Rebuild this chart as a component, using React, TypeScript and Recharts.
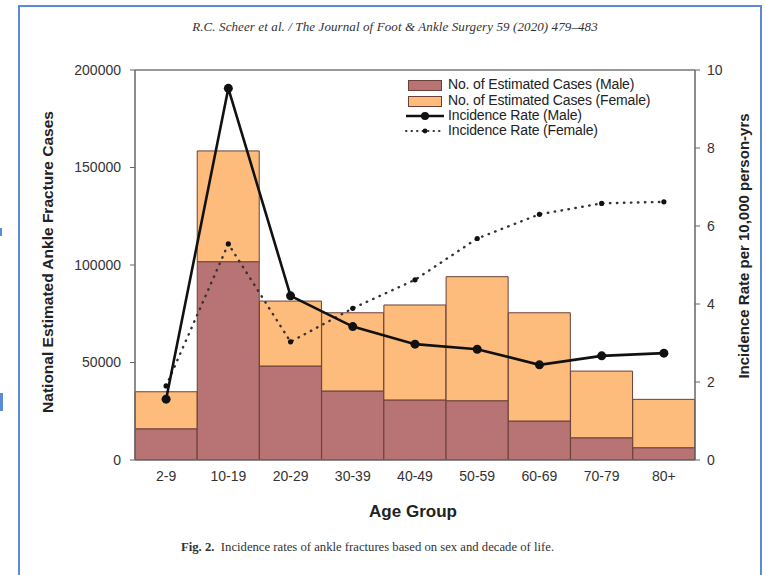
import React from "react";
import {
  ComposedChart,
  Bar,
  Line,
  XAxis,
  YAxis,
  ReferenceLine,
} from "recharts";

const ageGroups = ["2-9", "10-19", "20-29", "30-39", "40-49", "50-59", "60-69", "70-79", "80+"];
const maleCases = [16000, 101700, 48200, 35400, 30800, 30400, 20000, 11400, 6300];
const femaleCases = [19000, 56800, 33300, 40100, 48700, 63600, 55500, 34200, 24800];
const maleRate = [1.56, 9.53, 4.21, 3.42, 2.97, 2.84, 2.44, 2.67, 2.74];
const femaleRate = [1.9, 5.54, 3.03, 3.89, 4.62, 5.68, 6.3, 6.58, 6.62];
const leftTicks = [0, 50000, 100000, 150000, 200000];
const rightTicks = [0, 2, 4, 6, 8, 10];

const data = ageGroups.map((g, i) => ({
  group: g,
  male: maleCases[i],
  female: femaleCases[i],
  maleRate: maleRate[i],
  femaleRate: femaleRate[i],
}));

const MALE = "#b87374";
const FEMALE = "#fdbc7b";
const EDGE = "#6b4037";
const SANS = "'Liberation Sans', Arial, sans-serif";
const SERIF = "'Liberation Serif', 'Times New Roman', serif";

const MaleDot = (props: any) => {
  const { cx, cy } = props;
  if (cx == null || cy == null) return null;
  return <circle cx={cx} cy={cy} r={4.5} fill="#111" stroke="none" />;
};
const FemaleDot = (props: any) => {
  const { cx, cy } = props;
  if (cx == null || cy == null) return null;
  return <circle cx={cx} cy={cy} r={2.6} fill="#111" stroke="none" />;
};

export default function App() {
  const legendText: React.CSSProperties = {
    position: "absolute",
    left: 448,
    fontFamily: SANS,
    fontSize: 14,
    color: "#222",
    lineHeight: "15px",
    whiteSpace: "nowrap",
    letterSpacing: -0.15,
  };
  return (
    <div style={{ position: "absolute", left: 0, top: 0, width: 765, height: 575, background: "#fff", overflow: "hidden" }}>
      {/* blue frame */}
      <div style={{ position: "absolute", left: 18, top: 5, width: 744, height: 600, border: "2px solid #5b8ad6", boxSizing: "border-box" }} />
      <div style={{ position: "absolute", left: 0, top: 228, width: 2, height: 8, background: "#5b8ad6" }} />
      <div style={{ position: "absolute", left: 0, top: 393, width: 3, height: 18, background: "#5b8ad6" }} />

      <div style={{ position: "absolute", left: 0, top: 0 }}>
        <ComposedChart
          width={765}
          height={575}
          data={data}
          margin={{ top: 70, right: 40, bottom: 85, left: 75 }}
          barCategoryGap={0}
          barGap={0}
        >
          <XAxis
            dataKey="group"
            type="category"
            axisLine={{ stroke: "#666", strokeWidth: 1.5 }}
            tickLine={false}
            tickSize={0}
            tickMargin={11}
            height={30}
            tick={{ fontFamily: SANS, fontSize: 14, fill: "#333" }}
            interval={0}
          />
          <YAxis
            yAxisId="left"
            orientation="left"
            domain={[0, 200000]}
            ticks={leftTicks}
            width={60}
            axisLine={{ stroke: "#666", strokeWidth: 1.5 }}
            tickLine={{ stroke: "#666" }}
            tickSize={5}
            tickMargin={9}
            tick={{ fontFamily: SANS, fontSize: 14, fill: "#333" }}
            allowDataOverflow
          />
          <YAxis
            yAxisId="right"
            orientation="right"
            domain={[0, 10]}
            ticks={rightTicks}
            width={30}
            axisLine={{ stroke: "#666", strokeWidth: 1.5 }}
            tickLine={{ stroke: "#666" }}
            tickSize={5}
            tickMargin={7}
            tick={{ fontFamily: SANS, fontSize: 14, fill: "#333" }}
          />
          <ReferenceLine yAxisId="left" y={200000} stroke="#777" strokeWidth={1.5} />
          <Bar yAxisId="left" dataKey="male" stackId="cases" fill={MALE} stroke={EDGE} strokeWidth={1} isAnimationActive={false} />
          <Bar yAxisId="left" dataKey="female" stackId="cases" fill={FEMALE} stroke={EDGE} strokeWidth={1} isAnimationActive={false} />
          <Line
            yAxisId="right"
            dataKey="femaleRate"
            type="linear"
            stroke="#333"
            strokeWidth={2.4}
            strokeDasharray="0.5 6.5"
            strokeLinecap="round"
            dot={<FemaleDot />}
            activeDot={false}
            isAnimationActive={false}
          />
          <Line
            yAxisId="right"
            dataKey="maleRate"
            type="linear"
            stroke="#111"
            strokeWidth={2.6}
            dot={<MaleDot />}
            activeDot={false}
            isAnimationActive={false}
          />
        </ComposedChart>
      </div>

      {/* legend */}
      <div style={{ position: "absolute", left: 408, top: 80, width: 34, height: 11, background: MALE, border: `1px solid ${EDGE}`, boxSizing: "border-box" }} />
      <div style={{ ...legendText, top: 77 }}>No. of Estimated Cases (Male)</div>
      <div style={{ position: "absolute", left: 408, top: 96, width: 34, height: 11, background: FEMALE, border: `1px solid ${EDGE}`, boxSizing: "border-box" }} />
      <div style={{ ...legendText, top: 93 }}>No. of Estimated Cases (Female)</div>
      <svg style={{ position: "absolute", left: 404, top: 108 }} width={44} height={32}>
        <line x1={2} y1={8} x2={40} y2={8} stroke="#111" strokeWidth={2.4} />
        <circle cx={21} cy={8} r={4} fill="#111" />
        <line x1={2} y1={23} x2={40} y2={23} stroke="#333" strokeWidth={2} strokeDasharray="0.5 5" strokeLinecap="round" />
        <circle cx={21} cy={23} r={2.4} fill="#111" />
      </svg>
      <div style={{ ...legendText, top: 108 }}>Incidence Rate (Male)</div>
      <div style={{ ...legendText, top: 123 }}>Incidence Rate (Female)</div>

      {/* header */}
      <div style={{ position: "absolute", left: 0, width: 790, top: 19, textAlign: "center", fontFamily: SERIF, fontStyle: "italic", fontSize: 13, color: "#333", letterSpacing: 0.1, whiteSpace: "nowrap" }}>
        R.C. Scheer et al. / The Journal of Foot &amp; Ankle Surgery 59 (2020) 479–483
      </div>

      {/* axis titles */}
      <div style={{ position: "absolute", left: 48, top: 262, transform: "translate(-50%, -50%) rotate(-90deg)", fontFamily: SANS, fontWeight: "bold", fontSize: 15.5, color: "#222", whiteSpace: "nowrap" }}>
        National Estimated Ankle Fracture Cases
      </div>
      <div style={{ position: "absolute", left: 743, top: 246, transform: "translate(-50%, -50%) rotate(-90deg)", fontFamily: SANS, fontWeight: "bold", fontSize: 15, color: "#222", whiteSpace: "nowrap" }}>
        Incidence Rate per 10,000 person-yrs
      </div>
      <div style={{ position: "absolute", left: 413, top: 512, transform: "translate(-50%, -50%)", fontFamily: SANS, fontWeight: "bold", fontSize: 17, color: "#222", whiteSpace: "nowrap" }}>
        Age Group
      </div>

      {/* caption */}
      <div style={{ position: "absolute", left: 181, top: 540, fontFamily: SERIF, fontSize: 12.7, color: "#333", whiteSpace: "nowrap" }}>
        <b>Fig. 2.</b>&nbsp; Incidence rates of ankle fractures based on sex and decade of life.
      </div>
    </div>
  );
}
